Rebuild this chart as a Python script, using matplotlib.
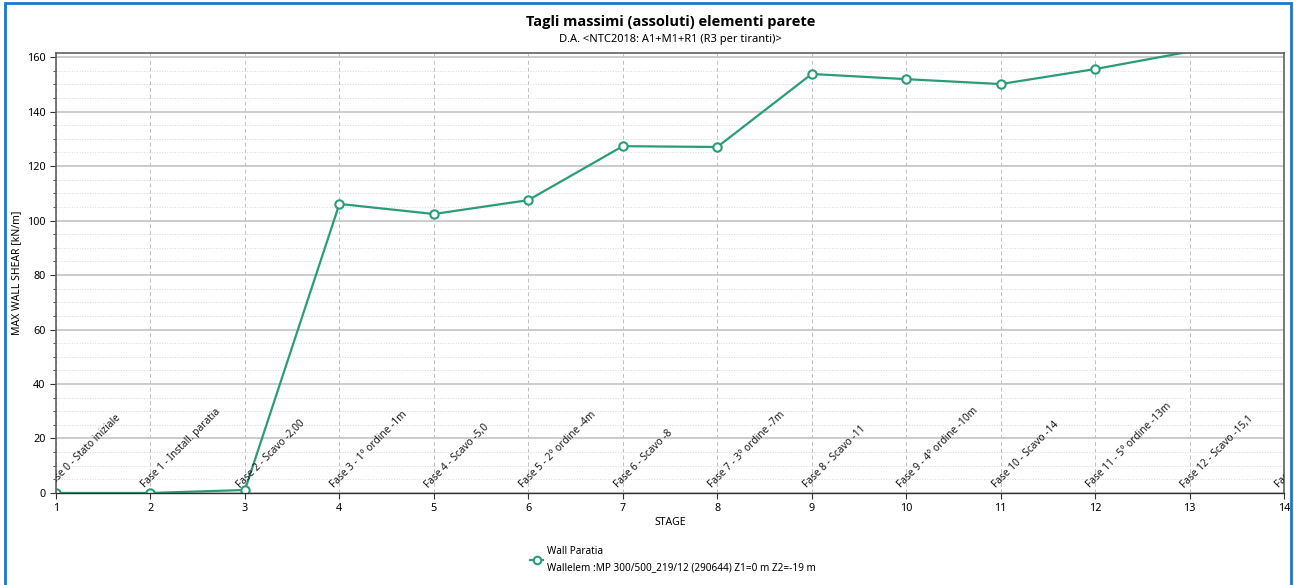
import matplotlib.pyplot as plt
from matplotlib.patches import Rectangle
from matplotlib.ticker import MultipleLocator
from matplotlib.transforms import ScaledTranslation

plt.rcParams['font.family'] = ['Noto Sans', 'DejaVu Sans']

# dati
stages = [1, 2, 3, 4, 5, 6, 7, 8, 9, 10, 11, 12, 13, 14]
shear = [0, 0, 1.1, 106.1, 102.4, 107.5, 127.3, 127.0, 153.8, 151.9, 150.1, 155.6, 162.0, 162.5]
phase_labels = [
    "Fase 0 - Stato iniziale", "Fase 1 - Install. paratia", "Fase 2 - Scavo -2,00",
    "Fase 3 - 1° ordine -1m", "Fase 4 - Scavo -5,0", "Fase 5 - 2° ordine -4m",
    "Fase 6 - Scavo -8", "Fase 7 - 3° ordine -7m", "Fase 8 - Scavo -11",
    "Fase 9 - 4° ordine -10m", "Fase 10 - Scavo -14", "Fase 11 - 5° ordine -13m",
    "Fase 12 - Scavo -15,1", "Fase 13 - 6° ordine -15m",
]
series_label = "Wall Paratia\nWallelem :MP 300/500_219/12 (290644) Z1=0 m Z2=-19 m"

color = '#2a9d76'
ytop = 161.5

fig = plt.figure(figsize=(12.94, 5.85), dpi=100)
ax = fig.add_axes([0.0433, 0.1573, 0.9490, 0.7521])

# griglia
ax.yaxis.set_major_locator(MultipleLocator(20))
ax.yaxis.set_minor_locator(MultipleLocator(5))
ax.set_xticks(stages)
ax.grid(True, axis='y', which='major', color='#c8c8c8', linewidth=1.3, linestyle='-')
ax.grid(True, axis='y', which='minor', color='#d8d8d8', linewidth=0.7, linestyle=':')
ax.grid(True, axis='x', which='major', color='#bdbdbd', linewidth=0.7, linestyle=(0, (4, 3)))
ax.set_axisbelow(True)

# i marker fuori scala non vengono disegnati (come nel programma originale)
visible = [i for i, v in enumerate(shear) if v <= ytop]
ax.plot(stages, shear, color=color, linewidth=1.6, marker='o', markersize=6,
        markerfacecolor='white', markeredgecolor=color, markeredgewidth=1.5,
        markevery=visible, label=series_label)

# etichette fasi ruotate (tagliate sul bordo del grafico)
offset = ScaledTranslation(-3 / 100, 3 / 100, fig.dpi_scale_trans)
for x, lab in zip(stages, phase_labels):
    ax.text(x, 0, lab, transform=ax.transData + offset,
            rotation=45, rotation_mode='anchor', ha='left', va='bottom',
            fontsize=7.3, color='#1a1a1a', clip_on=True)

ax.set_xlim(1, 14)
ax.set_ylim(0, ytop)

for s in ['top', 'left', 'right']:
    ax.spines[s].set_color('#606060')
    ax.spines[s].set_linewidth(1.2)
ax.spines['bottom'].set_color('#333333')
ax.spines['bottom'].set_linewidth(1.0)

ax.tick_params(axis='both', which='major', labelsize=7.8, length=4, color='#333333')
ax.tick_params(axis='y', which='minor', length=2, color='#333333')
ax.set_xlabel("STAGE", fontsize=7.5, labelpad=2)
ax.set_ylabel("MAX WALL SHEAR [kN/m]", fontsize=7.5)
ax.yaxis.set_label_coords(-0.0275, 0.5)

fig.text(0.518, 0.963, "Tagli massimi (assoluti) elementi parete", ha='center', va='center',
         fontsize=10.5, fontweight='bold', family=['Open Sans', 'Lato', 'DejaVu Sans'])
fig.text(0.518, 0.932, "D.A. <NTC2018: A1+M1+R1 (R3 per tiranti)>", ha='center', va='center',
         fontsize=8)

leg = fig.legend(loc='center left', bbox_to_anchor=(0.403, 0.044), frameon=False, fontsize=7.2,
                 handlelength=1.3, handletextpad=0.4, markerscale=0.9)
for t in leg.get_texts():
    t.set_linespacing(1.6)

# cornice blu
fig.patches.append(Rectangle((0.004, -0.02), 0.9935, 1.015, transform=fig.transFigure,
                             fill=False, edgecolor='#1a75cf', linewidth=2))

fig.savefig('out.png', dpi=100)
